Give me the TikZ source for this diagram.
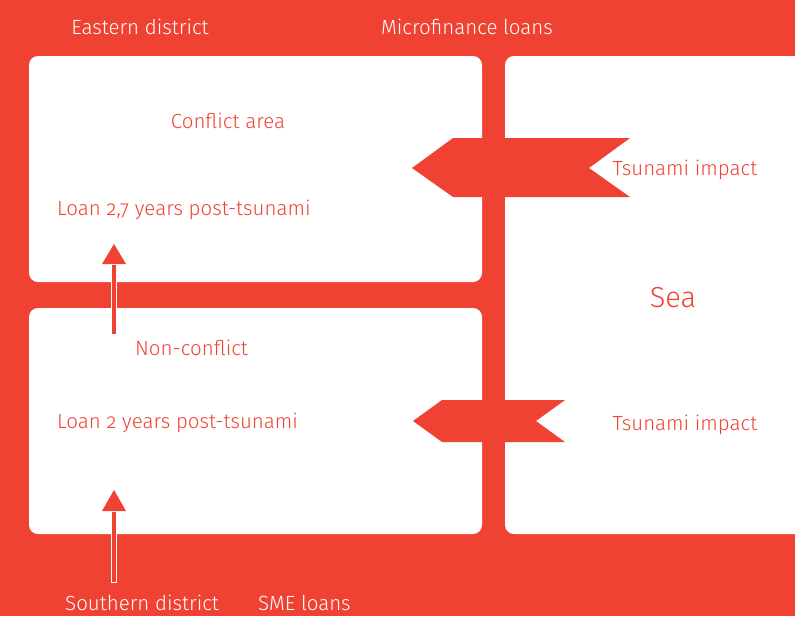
\documentclass[tikz,border=0pt]{standalone}
\usepackage{fontspec}
\setmainfont{Fira Sans}[UprightFont={* Light}, Numbers=OldStyle]
\definecolor{brand}{RGB}{239,66,51}
\tikzset{
  panel/.style={fill=white, rounded corners=9pt},
  onred/.style={text=white, inner sep=0pt, font=\fontsize{20.5}{24}\selectfont, anchor=center},
  onwhite/.style={text=brand, inner sep=0pt, font=\fontsize{20.5}{24}\selectfont, anchor=center},
  pointer/.style={fill=brand},
  shaft/.style={fill=brand, draw=white, line width=0.8pt},
  head/.style={fill=brand}
}
\begin{document}
\begin{tikzpicture}[x=1pt,y=-1pt]
  \clip (0,0) rectangle (795,616);
  \fill[brand] (0,0) rectangle (795,616);

  % panels
  \fill[panel] (29,56) rectangle (482,282);
  \fill[panel] (29,308) rectangle (482,534);
  \fill[panel] (505,56) rectangle (830,534);

  % tsunami pointers
  \fill[pointer] (412,168) -- (453,138) -- (630,138) -- (589,168) -- (630,197) -- (453,197) -- cycle;
  \fill[pointer] (413,421) -- (442,400) -- (565,400) -- (536,421) -- (565,442) -- (442,442) -- cycle;

  % upward arrows
  \filldraw[shaft] (111.5,264) rectangle (116.5,334);
  \fill[head] (114,244) -- (126,264) -- (102,264) -- cycle;
  \filldraw[shaft] (111.5,511) rectangle (116.5,582);
  \fill[head] (114,490) -- (126,511) -- (102,511) -- cycle;

  % labels
  \node[onred] (east) at (140,27) {Eastern district};
  \node[onred] (micro) at (467,27) {Microfinance loans};
  \node[onwhite] (conf) at (228,121) {Conflict area};
  \node[onwhite] (ts1) at (685,170) {Tsunami impact};
  \node[onwhite, anchor=west] (loan1) at (57,210) {Loan 2,7 years post-tsunami};
  \node[onwhite, font=\fontsize{29}{32}\selectfont] (sea) at (673,298) {Sea};
  \node[onwhite, anchor=west] (nonc) at (135,348) {Non-conflict};
  \node[onwhite, anchor=west] (loan2) at (57,423) {Loan 2 years post-tsunami};
  \node[onwhite] (ts2) at (685,425) {Tsunami impact};
  \node[onred, anchor=west] (south) at (65,603) {Southern district};
  \node[onred, anchor=west] (sme) at (258,603) {SME loans};
\end{tikzpicture}
\end{document}
